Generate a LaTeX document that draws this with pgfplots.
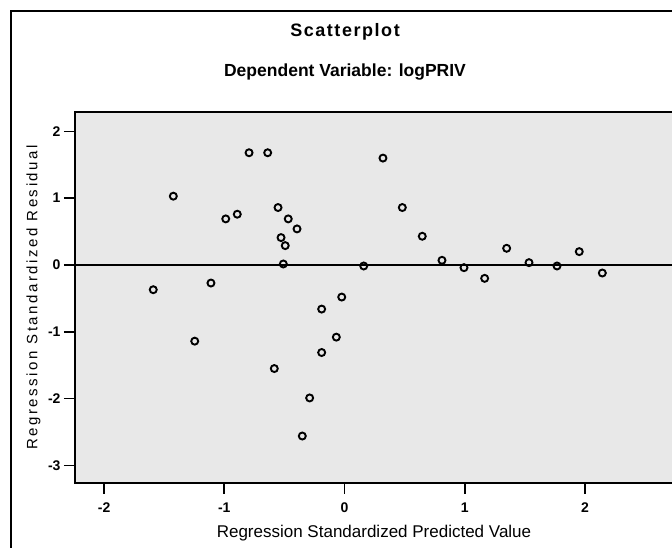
\documentclass[border=0pt]{standalone}
\usepackage{fontspec}
\setmainfont{Liberation Sans}
\usepackage{pgfplots}
\pgfplotsset{compat=1.18}
\definecolor{plotbg}{RGB}{232,232,232}

\pgfplotstableread{
x y
-0.794 1.68
-0.639 1.68
-1.424 1.03
-0.988 0.69
-0.892 0.76
-0.553 0.86
-0.468 0.69
-0.395 0.54
-0.528 0.41
-0.493 0.29
-0.509 0.015
0.160 -0.015
-1.591 -0.37
-1.111 -0.27
0.320 1.60
0.481 0.86
0.647 0.43
0.811 0.07
0.994 -0.04
1.166 -0.20
1.349 0.25
1.535 0.035
1.768 -0.015
1.953 0.20
2.145 -0.12
-0.023 -0.48
-0.190 -0.66
-1.246 -1.14
-0.068 -1.08
-0.190 -1.31
-0.584 -1.55
-0.290 -1.99
-0.351 -2.56
}\resid

\begin{document}
\begin{tikzpicture}[x=1bp,y=1bp]
\useasboundingbox (0,0) rectangle (672,548);
\clip (0,0) rectangle (672,548);
\draw[line width=2bp] (11,-10) -- (11,537) -- (700,537);
\node[anchor=base, font=\fontsize{18bp}{20bp}\selectfont\bfseries\addfontfeatures{LetterSpace=8.6}] at (345,511) {Scatterplot};
\node[anchor=base, font=\fontsize{17.5bp}{20bp}\selectfont\bfseries] at (345,471) {Dependent Variable: logPRIV};
\begin{axis}[
  at={(75bp,65bp)}, anchor=south west,
  scale only axis, width=598bp, height=371bp,
  xmin=-2.242, xmax=2.733, ymin=-3.263, ymax=2.290,
  axis background/.style={fill=plotbg},
  axis line style={line width=1.6bp, black},
  tick style={line width=1.6bp, black},
  tick align=outside, major tick length=11bp,
  xtick pos=lower, ytick pos=left,
  xtick={-2,-1,0,1,2}, xticklabels={-2,-1,0,1,2},
  ytick={-3,-2,-1,0,1,2}, yticklabels={-3,-2,-1,0,1,2},
  ticklabel style={font=\fontsize{14bp}{16bp}\selectfont\bfseries},
  xticklabel style={yshift=-5bp},
  xlabel={Regression Standardized Predicted Value},
  xlabel style={font=\fontsize{17bp}{19bp}\selectfont, at={(axis description cs:0.5,-0.148)}, anchor=base},
  ylabel={Regression Standardized Residual},
  ylabel style={font=\fontsize{15bp}{17bp}\selectfont\addfontfeatures{LetterSpace=17}, at={(axis description cs:-0.063,0.5)}, anchor=base},
  clip=false,
]
\addplot[black, line width=2bp] coordinates {(-2.242,0) (2.733,0)};
\addplot[only marks, mark=o, mark size=3.5bp, mark options={line width=1.9bp, black}] table[x=x,y=y] {\resid};
\end{axis}
\end{tikzpicture}
\end{document}
